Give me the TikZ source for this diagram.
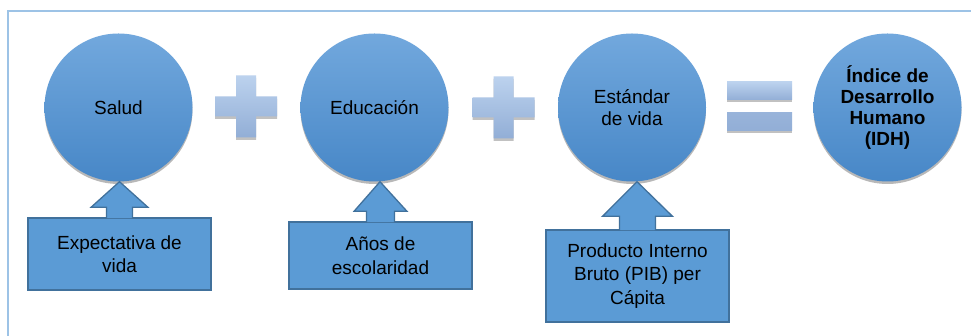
\documentclass[tikz,border=0pt]{standalone}
\usepackage{fontspec}
\setmainfont{Liberation Sans}
\usetikzlibrary{shadows}
\definecolor{frameblue}{HTML}{9DC3E6}
\definecolor{circtop}{HTML}{72A8DD}
\definecolor{circbot}{HTML}{4787C7}
\definecolor{boxfill}{HTML}{5B9BD5}
\definecolor{boxline}{HTML}{41719C}
\definecolor{signtop}{HTML}{BCD2EE}
\definecolor{signbot}{HTML}{92AED6}
\begin{document}
\begin{tikzpicture}[x=1pt,y=1pt,
  frameline/.style={draw=frameblue, line width=1.6pt},
  circ/.style={circle, minimum size=148pt, inner sep=0pt, top color=circtop, bottom color=circbot,
    drop shadow={shadow xshift=0pt, shadow yshift=-2.5pt, opacity=0.28, fill=black},
    align=center, text=black, font=\fontsize{19}{21.5}\selectfont},
  infobox/.style={rectangle, draw=boxline, fill=boxfill, line width=1.3pt, inner sep=2pt,
    minimum width=183pt, align=center, text=black, font=\fontsize{19}{23.5}\selectfont},
  upshape/.style={draw=boxline, fill=boxfill, line width=1.3pt, line join=miter},
  opsign/.style={top color=signtop, bottom color=signbot, draw=none,
    drop shadow={shadow xshift=0pt, shadow yshift=-2.5pt, opacity=0.3, fill=black!80}}
]
\useasboundingbox (0,0) rectangle (971,336);
\fill[white] (0,0) rectangle (971,336);
\begin{scope}
  \clip (0,0) rectangle (971,336);
  \draw[frameline] (8,-20) rectangle (1000,325);
\end{scope}

% circles
\node[circ] (s1) at (118.5,228.5) {Salud};
\node[circ] (s2) at (374.5,228.5) {Educación};
\node[circ] (s3) at (632,228.5) {Estándar\\de vida};
\node[circ, font=\fontsize{19}{21}\selectfont\bfseries] (s4) at (887.5,228.5) {Índice de\\Desarrollo\\Humano\\(IDH)};

% plus signs
\begin{scope}[shift={(246,229.5)}]
  \path[opsign] (-10,31) -- (10,31) -- (10,10) -- (31,10) -- (31,-10) -- (10,-10) -- (10,-31)
    -- (-10,-31) -- (-10,-10) -- (-31,-10) -- (-31,10) -- (-10,10) -- cycle;
\end{scope}
\begin{scope}[shift={(503.5,228.5)}]
  \path[opsign] (-10,31) -- (10,31) -- (10,10) -- (31,10) -- (31,-10) -- (10,-10) -- (10,-31)
    -- (-10,-31) -- (-10,-10) -- (-31,-10) -- (-31,10) -- (-10,10) -- cycle;
\end{scope}
% equals sign
\path[opsign] (727,236) rectangle (792,254);
\path[opsign, top color=signbot!85!signtop] (727,205) rectangle (792,223);

% boxes
\node[infobox, minimum height=72pt] (b1) at (119.5,82) {Expectativa de\\vida};
\node[infobox, minimum height=67pt] (b2) at (380.5,80.5) {Años de\\escolaridad};
\node[infobox, minimum height=92pt] (b3) at (637.5,60) {Producto Interno\\Bruto (PIB) per\\Cápita};

% up arrows
\draw[upshape] ([xshift=-13pt,yshift=-0.7pt]b1.north) -- ([xshift=-13pt,yshift=10pt]b1.north)
  -- ([xshift=-28.5pt,yshift=10pt]b1.north) -- ([xshift=1pt]s1.south)
  -- ([xshift=28.5pt,yshift=10pt]b1.north) -- ([xshift=13pt,yshift=10pt]b1.north)
  -- ([xshift=13pt,yshift=-0.7pt]b1.north);
\draw[upshape] ([xshift=-14pt,yshift=-0.7pt]b2.north) -- ([xshift=-14pt,yshift=10pt]b2.north)
  -- ([xshift=-26.5pt,yshift=10pt]b2.north) -- ([xshift=5.5pt]s2.south)
  -- ([xshift=26.5pt,yshift=10pt]b2.north) -- ([xshift=14pt,yshift=10pt]b2.north)
  -- ([xshift=14pt,yshift=-0.7pt]b2.north);
\draw[upshape] ([xshift=-18pt,yshift=-0.7pt]b3.north) -- ([xshift=-18pt,yshift=13pt]b3.north)
  -- ([xshift=-35pt,yshift=13pt]b3.north) -- ([xshift=5pt]s3.south)
  -- ([xshift=35pt,yshift=13pt]b3.north) -- ([xshift=18pt,yshift=13pt]b3.north)
  -- ([xshift=18pt,yshift=-0.7pt]b3.north);
\end{tikzpicture}
\end{document}
